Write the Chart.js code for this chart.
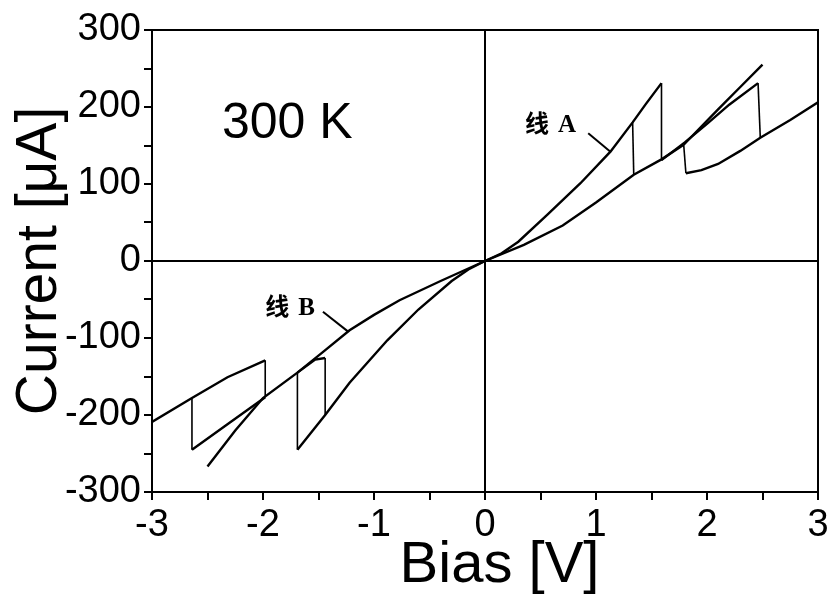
<!DOCTYPE html>
<html>
<head>
<meta charset="utf-8">
<script src="https://cdn.jsdelivr.net/npm/chart.js@4.4.1/dist/chart.umd.min.js"></script>
<style>
  html, body { margin: 0; padding: 0; background: #fff; overflow: hidden; }
  #wrap { width: 828px; height: 602px; }
</style>
</head>
<body>
<div id="wrap"><canvas id="myChart"></canvas></div>
<script>

// Sweeps, bias [V] vs current [uA]

// positive side
const lineA = [
    {x: 0, y: 0}, {x: 0.15, y: 10}, {x: 0.3, y: 25}, {x: 0.56, y: 60},
    {x: 0.86, y: 101}, {x: 1.13, y: 142}, {x: 1.33, y: 180}, {x: 1.45, y: 204},
    {x: 1.59, y: 231}, {x: 1.59, y: 131},
];
const jumpA = [
    {x: 1.33, y: 180}, {x: 1.34, y: 112},
];
const lowerPos = [
    {x: 0, y: 0}, {x: 0.35, y: 21}, {x: 0.7, y: 46}, {x: 1.0, y: 76},
    {x: 1.34, y: 112}, {x: 1.59, y: 132}, {x: 1.79, y: 151}, {x: 1.81, y: 114},
    {x: 1.95, y: 118}, {x: 2.1, y: 126}, {x: 2.3, y: 143}, {x: 2.48, y: 160},
    {x: 2.75, y: 183}, {x: 3.0, y: 206},
];
const returnPos = [
    {x: 1.59, y: 131}, {x: 1.8, y: 154}, {x: 2.0, y: 178}, {x: 2.2, y: 203},
    {x: 2.46, y: 231}, {x: 2.48, y: 160},
];
const steepPos = [
    {x: 1.79, y: 151}, {x: 2.1, y: 197}, {x: 2.3, y: 226}, {x: 2.5, y: 255},
];

// negative side
const steepNeg = [
    {x: 0, y: 0}, {x: -0.15, y: -11}, {x: -0.3, y: -26}, {x: -0.6, y: -63},
    {x: -0.88, y: -103}, {x: -1.22, y: -158}, {x: -1.44, y: -200},
    {x: -1.69, y: -245}, {x: -1.69, y: -145},
];
const jumpNeg = [
    {x: -1.44, y: -200}, {x: -1.44, y: -126}, {x: -1.53, y: -128}, {x: -1.69, y: -145},
];
const lineB = [
    {x: 0, y: 0}, {x: -0.4, y: -26}, {x: -0.77, y: -51}, {x: -1.0, y: -70},
    {x: -1.22, y: -90}, {x: -1.45, y: -117}, {x: -1.69, y: -145}, {x: -2.0, y: -178},
    {x: -2.25, y: -220}, {x: -2.5, y: -267},
];
const boxTop = [
    {x: -3, y: -209}, {x: -2.64, y: -178}, {x: -2.32, y: -151},
    {x: -1.98, y: -129}, {x: -1.98, y: -177},
];
const boxBottom = [
    {x: -2.64, y: -178}, {x: -2.64, y: -245}, {x: -2.32, y: -212}, {x: -1.98, y: -177},
];

const traces = [lineA, jumpA, lowerPos, returnPos, steepPos, steepNeg, jumpNeg, lineB, boxTop, boxBottom];

Chart.defaults.font.family = "'Liberation Sans', Arial, sans-serif";
Chart.defaults.color = '#000';

// frame, 300 K and the two arrow labels
const notes = {
    id: 'notes',
    afterDatasetsDraw(chart) {
        const {ctx, chartArea, scales: {x, y}} = chart;
        ctx.save();
        ctx.strokeStyle = '#000';
        ctx.fillStyle = '#000';
        ctx.lineWidth = 2;
        ctx.strokeRect(chartArea.left, chartArea.top, chartArea.width, chartArea.height);

        ctx.textBaseline = 'middle';
        ctx.font = "50px 'Liberation Sans'";
        ctx.fillText('300 K', x.getPixelForValue(-2.37), y.getPixelForValue(178));

        ctx.textBaseline = 'alphabetic';
        const tag = (txt, letter, vx, vy) => {
            const px = x.getPixelForValue(vx), py = y.getPixelForValue(vy);
            ctx.font = "bold 24px 'Noto Sans CJK SC'";
            ctx.fillText(txt, px, py);
            ctx.font = "bold 25px 'Liberation Serif'";
            ctx.fillText(letter, px + 33, py);
        };
        tag('线', 'A', 0.36, 167);
        tag('线', 'B', -1.98, -70);

        const arrow = (x1, y1, x2, y2) => {
            ctx.beginPath();
            ctx.moveTo(x.getPixelForValue(x1), y.getPixelForValue(y1));
            ctx.lineTo(x.getPixelForValue(x2), y.getPixelForValue(y2));
            ctx.stroke();
        };
        arrow(0.93, 166, 1.13, 142);
        arrow(-1.46, -66, -1.23, -92);
        ctx.restore();
    }
};

const zeroLine = (c) => c.tick && c.tick.value === 0 ? '#000' : 'rgba(0,0,0,0)';

// the jumps are drawn thinner than the sweeps
const jumpWidth = (c) => Math.abs(c.p0.parsed.x - c.p1.parsed.x) < 0.03 ? 1.6 : 2.4;

const config = {
    type: 'scatter',
    data: {
        datasets: traces.map(t => ({
            data: t,
            showLine: true,
            borderColor: '#000',
            borderWidth: 2.4,
            segment: {borderWidth: jumpWidth},
            pointRadius: 0,
            tension: 0,
        }))
    },
    options: {
        responsive: true,
        maintainAspectRatio: false,
        animation: false,
        layout: {
            padding: {top: 30, right: 10, left: 0, bottom: 0}
        },
        plugins: {
            legend: {display: false},
            tooltip: {enabled: false},
        },
        scales: {
            x: {
                type: 'linear',
                min: -3,
                max: 3,
                afterFit(s) { s.height = 110; s.paddingLeft = 0; s.paddingRight = 0; },
                ticks: {
                    stepSize: 0.5,
                    autoSkip: false,
                    maxRotation: 0,
                    padding: 3,
                    font: {size: 38},
                    callback: (v) => Number.isInteger(v) ? String(v) : '',
                },
                grid: {
                    color: zeroLine,
                    lineWidth: 2,
                    tickColor: '#000',
                    tickLength: 8,
                },
                border: {color: '#000', width: 2},
                title: {
                    display: true,
                    text: '\u2002Bias [V]',
                    font: {size: 58},
                    padding: {top: 0, bottom: 1},
                },
            },
            y: {
                min: -300,
                max: 300,
                afterFit(s) { s.width = 152; s.paddingTop = 0; s.paddingBottom = 0; },
                ticks: {
                    stepSize: 50,
                    autoSkip: false,
                    padding: 3,
                    font: {size: 38},
                    callback: (v) => v % 100 === 0 ? String(v) : '',
                },
                grid: {
                    color: zeroLine,
                    lineWidth: 2,
                    tickColor: '#000',
                    tickLength: 8,
                },
                border: {color: '#000', width: 2},
                title: {
                    display: true,
                    text: 'Current [μA]',
                    font: {size: 57},
                    padding: {top: 6, bottom: 0},
                },
            }
        }
    },
    plugins: [notes]
};

const ctx = document.querySelector('#myChart');
let myChart = new Chart(ctx, config);
</script>
</body>
</html>
